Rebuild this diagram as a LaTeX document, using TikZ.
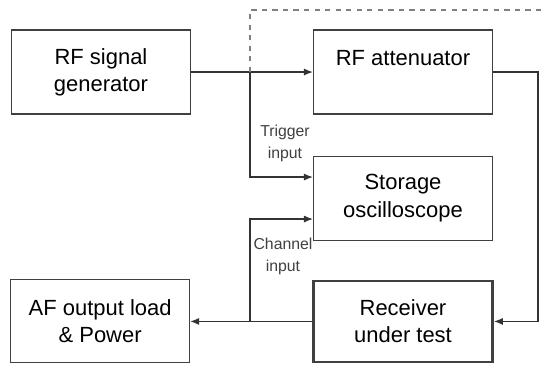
\documentclass[tikz,border=0pt]{standalone}
\usepackage{fontspec}
\setmainfont{Liberation Sans}
\usetikzlibrary{arrows.meta,positioning}

\begin{document}
\begin{tikzpicture}[
    x=0.02cm, y=-0.02cm,
    font=\fontsize{12.5}{15.5}\selectfont,
    node distance=0mm,
    block/.style={draw=black!75, line width=0.6pt, minimum width=3.58cm, minimum height=1.68cm, align=center, inner sep=2pt},
    tag/.style={font=\fontsize{9}{12.5}\selectfont, text=black!75, align=center},
    wire/.style={-{Latex[length=1.8mm,width=1.4mm]}, line width=0.7pt, draw=black!80}
]
\useasboundingbox (0,0) rectangle (541,370);
\node[block] (gen) at (101,72) {RF signal\\generator};
\node[block, right=2.44cm of gen] (att) {RF attenuator\\\mbox{}};
\node[block, below=0.82cm of att] (osc) {Storage\\oscilloscope};
\node[block, below=0.78cm of osc, line width=1.6pt, minimum height=1.62cm] (rx) {Receiver\\under test};
\node[block, left=2.44cm of rx, minimum height=1.66cm] (af) {AF output load\\\& Power};

\node[tag] (trig) at (285,143) {Trigger\\input};
\node[tag] (chan) at (283,256) {Channel\\input};

\coordinate (tap) at (250,72);
\coordinate (dtop) at (250,10);
\coordinate (dend) at (541,10);
\coordinate (trigin) at ([yshift=0.42cm]osc.west);
\coordinate (chanin) at ([yshift=-0.42cm]osc.west);
\coordinate (chtap) at (tap |- rx.west);
\coordinate (rturn) at (538,72);

\draw[wire] (gen) -- (att);
\draw[wire] (tap) |- (trigin);
\draw[wire] (rx) -- (af);
\draw[wire] (chtap) |- (chanin);
\draw[wire] (att.east) -- (rturn) |- (rx.east);
\draw[dashed, gray, line width=0.6pt] (tap) -- (dtop) -- (dend);
\end{tikzpicture}
\end{document}
